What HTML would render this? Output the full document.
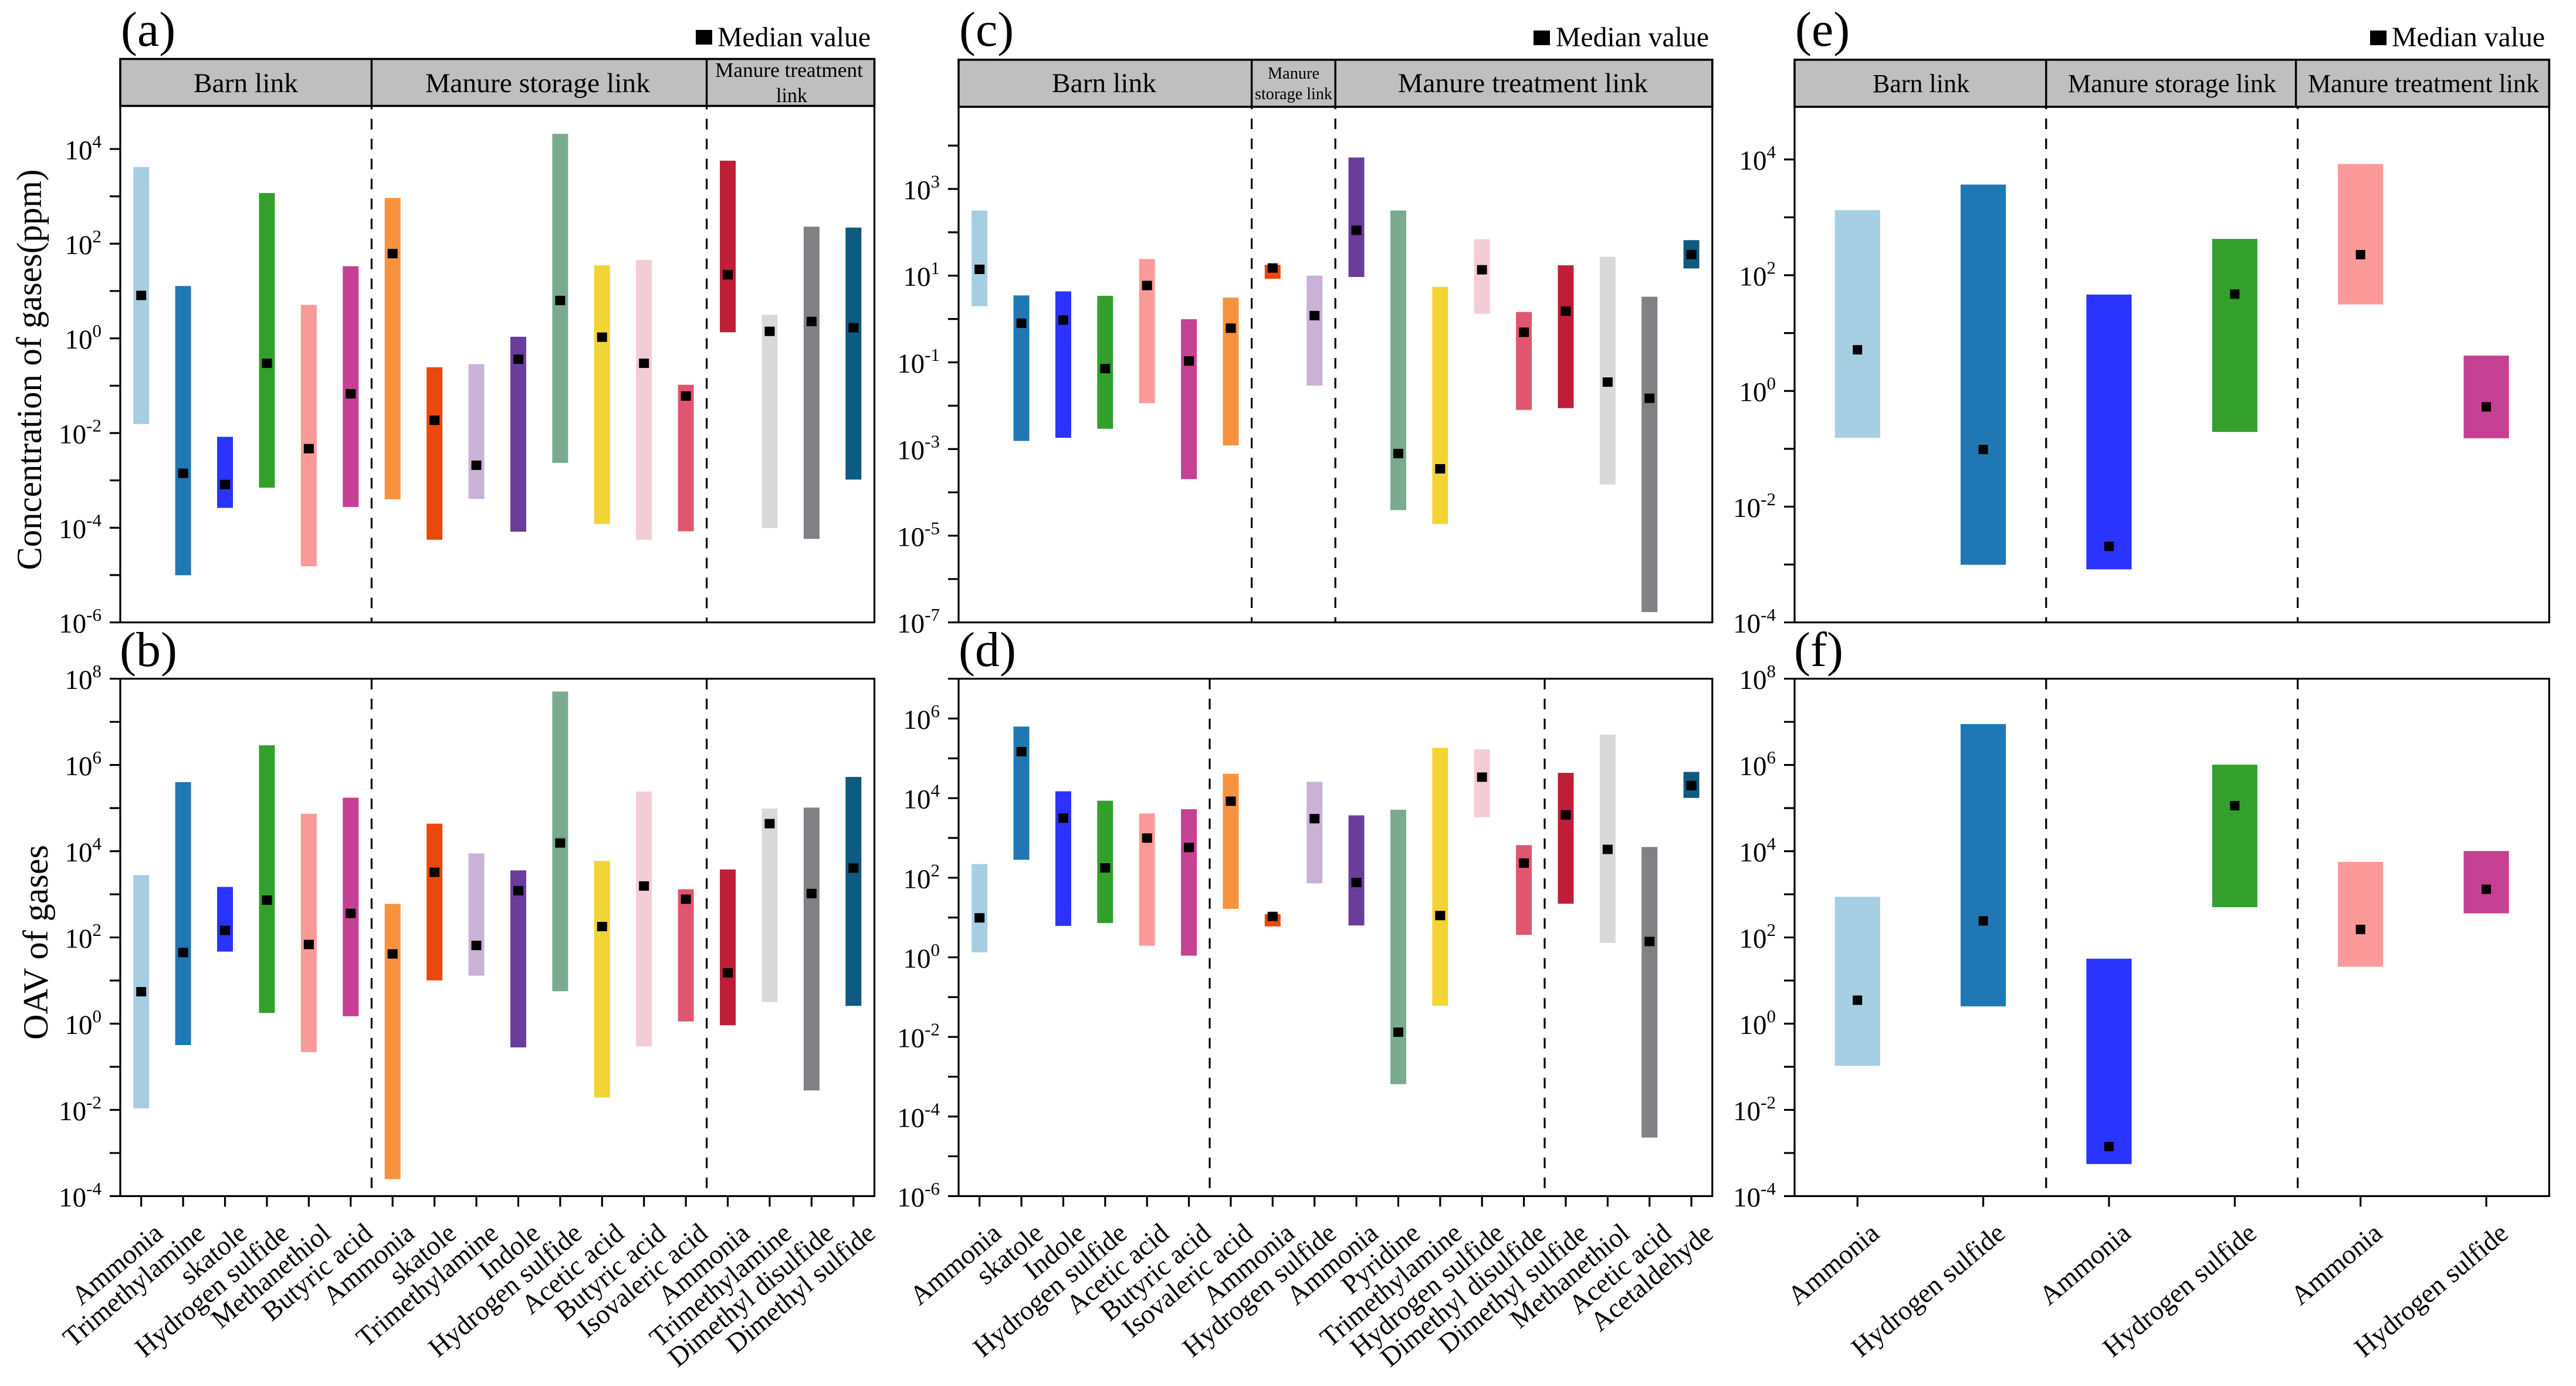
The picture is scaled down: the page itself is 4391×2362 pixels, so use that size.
<!DOCTYPE html>
<html lang="en">
<head>
<meta charset="utf-8">
<title>Gas concentration and OAV ranges by link</title>
<style>
html,body{margin:0;padding:0;background:#fff}
svg{display:block}
text{font-family:"Liberation Serif","Times New Roman",serif;fill:#000}
</style>
</head>
<body>
<svg id="chart" xmlns="http://www.w3.org/2000/svg" width="4391" height="2362" viewBox="0 0 4391 2362"></svg>
<script>
// ---------- category labels ----------
const catsTopLeft = ["Ammonia","Trimethylamine","skatole","Hydrogen sulfide","Methanethiol","Butyric acid","Ammonia","skatole","Trimethylamine","Indole","Hydrogen sulfide","Acetic acid","Butyric acid","Isovaleric acid","Ammonia","Trimethylamine","Dimethyl disulfide","Dimethyl sulfide"];
const catsMiddle = ["Ammonia","skatole","Indole","Hydrogen sulfide","Acetic acid","Butyric acid","Isovaleric acid","Ammonia","Hydrogen sulfide","Ammonia","Pyridine","Trimethylamine","Hydrogen sulfide","Dimethyl disulfide","Dimethyl sulfide","Methanethiol","Acetic acid","Acetaldehyde"];
const catsRight = ["Ammonia","Hydrogen sulfide","Ammonia","Hydrogen sulfide","Ammonia","Hydrogen sulfide"];

// ---------- series values (log10 of the plotted quantity) ----------
const aHigh = [3.62,1.106,-2.08,3.07,0.708,1.524,2.966,-0.611,-0.545,0.034,4.32,1.543,1.657,-0.98,3.753,0.499,2.359,2.34];
const aLow = [-1.81,-5.004,-3.58,-3.154,-4.814,-3.562,-3.40,-4.254,-3.391,-4.084,-2.63,-3.92,-4.254,-4.074,0.129,-4.008,-4.235,-2.983];
const aMedian = [0.907,-2.85,-3.087,-0.526,-2.33,-1.171,1.79,-1.73,-2.68,-0.44,0.80,0.025,-0.526,-1.218,1.343,0.148,0.357,0.224];

const bHigh = [3.445,5.602,3.171,6.456,4.869,5.241,2.777,4.639,3.949,3.555,7.704,3.774,5.383,3.117,3.576,4.989,5.011,5.723];
const bLow = [-1.964,-0.497,1.671,0.248,-0.661,0.171,-3.606,1.003,1.113,-0.551,0.752,-1.712,-0.529,0.051,-0.037,0.5,-1.549,0.412];
const bMedian = [0.741,1.649,2.164,2.865,1.836,2.558,1.617,3.511,1.814,3.084,4.19,2.252,3.193,2.887,1.179,4.639,3.018,3.609];

const cHigh = [2.503,0.544,0.637,0.534,1.383,-0.005,0.492,1.249,1.0,3.725,2.503,0.741,1.839,0.161,1.238,1.435,0.513,1.819];
const cLow = [0.295,-2.813,-2.741,-2.534,-1.943,-3.694,-2.917,0.927,-1.539,0.969,-4.409,-4.731,0.119,-2.098,-2.057,-3.819,-6.762,1.166];
const cMedian = [1.145,-0.098,-0.026,-1.145,0.772,-0.969,-0.212,1.176,0.078,2.047,-3.104,-3.456,1.135,-0.306,0.181,-1.456,-1.829,1.487];

const dHigh = [2.344,5.798,4.172,3.935,3.614,3.721,4.611,1.086,4.41,3.567,3.709,5.264,5.228,2.819,4.635,5.596,2.772,4.659];
const dLow = [0.125,2.451,0.789,0.861,0.291,0.042,1.217,0.777,1.858,0.801,-3.187,-1.217,3.519,0.564,1.347,0.362,-4.528,4.006];
const dMedian = [0.991,5.169,3.496,2.249,2.997,2.76,3.923,1.027,3.484,1.881,-1.881,1.05,4.528,2.368,3.579,2.712,0.398,4.315];

const eHigh = [3.123,3.566,1.665,2.627,3.922,0.61];
const eLow = [-0.81,-3.005,-3.083,-0.709,1.494,-0.818];
const eMedian = [0.711,-1.012,-2.687,1.673,2.355,-0.275];

const fHigh = [2.942,6.949,1.507,6.007,3.752,4.004];
const fLow = [-0.978,0.401,-3.256,2.701,1.321,2.558];
const fMedian = [0.544,2.383,-2.851,5.055,2.186,3.117];

// ---------- labelled tick exponents ----------
const aTicks = [-6,-4,-2,0,2,4];
const bTicks = [-4,-2,0,2,4,6,8];
const cTicks = [-7,-5,-3,-1,1,3];
const dTicks = [-6,-4,-2,0,2,4,6];
const eTicks = [-4,-2,0,2,4];
const fTicks = [-4,-2,0,2,4,6,8];

// ---------- bar colours, by position in a panel ----------
const palette = ["#a6cee3","#1f78b4","#2a33ff","#33a02c","#fb9a99","#c64094","#f7923f","#ea480d","#c9b2d6","#6a3d9a","#7aab8f","#f2d534","#f4ccd6","#e0566f","#be1e37","#d9d9da","#808085","#0e5a80"];

const svg = document.getElementById('chart');
const NS = 'http://www.w3.org/2000/svg';
function mk(tag, attrs, parent) {
  const n = document.createElementNS(NS, tag);
  for (const k in attrs) n.setAttribute(k, attrs[k]);
  parent.appendChild(n);
  return n;
}
const AXW = 3.2;
const TICK = 18;

function drawPanel(p, cats, high, low, median, ticks) {
  const g = mk('g', {}, svg);
  
  

  // axis functions
  const n = cats.length;
  const step = (p.right - p.left) / n;
  const xOf = i => p.left + step * (i + 0.5);
  const yOf = v => p.bottom - (v - p.vMin) * (p.bottom - p.top) / (p.vMax - p.vMin);

  // panel letter
  const letter = mk('text', {x: p.letterX, y: p.letterY, 'font-size': 84}, g);
  letter.textContent = p.letter;
  
  

  // header strip
  if (p.header) {
    const h = p.header;
    const strip = mk('rect', {x: p.left, y: h.top, width: p.right - p.left, height: p.top - h.top, fill: '#bfbfbf', stroke: '#000', 'stroke-width': 3.6}, g);
    
    
    h.dividers.forEach(d => {
      const dv = mk('line', {x1: d, x2: d, y1: h.top, y2: p.top, stroke: '#000', 'stroke-width': 3.4}, g);
      
      
    });
    h.labels.forEach(l => {
      const t = mk('text', {x: l.x, y: l.y, 'font-size': l.size, textLength: l.len, lengthAdjust: 'spacingAndGlyphs'}, g);
      t.textContent = l.text;
      
      
    });
    const mSq = mk('rect', {x: h.legend.sq, y: h.legend.sqY, width: 28, height: 25, fill: '#000'}, g);
    
    
    const mTx = mk('text', {x: h.legend.tx, y: 79, 'font-size': 48, textLength: 261, lengthAdjust: 'spacingAndGlyphs'}, g);
    mTx.textContent = 'Median value';
    
    
  }

  // dashed group separators
  p.dashes.forEach(d => {
    const ln = mk('line', {x1: d, x2: d, y1: p.top, y2: p.bottom, stroke: '#000', 'stroke-width': 3.2, 'stroke-dasharray': '18 16', 'stroke-dashoffset': p.dashOffset}, g);
    
    
  });

  // range bars
  const barW = step * p.barFrac;
  high.forEach((v, i) => {
    const yT = yOf(v), yB = yOf(low[i]);
    const b = mk('rect', {x: xOf(i) - barW / 2, y: yT, width: barW, height: yB - yT, fill: palette[i]}, g);
    
    
  });

  // median markers
  median.forEach((v, i) => {
    const m = mk('rect', {x: xOf(i) - p.medW / 2, y: yOf(v) - 8, width: p.medW, height: 16, fill: '#000'}, g);
    
    
  });

  // frame
  const frame = mk('path', {d: `M${p.left} ${p.top}V${p.bottom}H${p.right}V${p.top}` + (p.header ? '' : `H${p.left}`), fill: 'none', stroke: '#000', 'stroke-width': AXW}, g);
  
  

  // y ticks
  for (let e = Math.ceil(p.vMin); e <= Math.floor(p.vMax); e++) {
    const y = yOf(e);
    const tk = mk('line', {x1: p.left - TICK, x2: p.left, y1: y, y2: y, stroke: '#000', 'stroke-width': AXW}, g);
    
    
    if (ticks.includes(e)) {
      const t = mk('text', {x: p.left - TICK - 14, y: y + 17.5, 'font-size': 47, 'text-anchor': 'end'}, g);
      
      
      t.appendChild(document.createTextNode('10'));
      const s = mk('tspan', {dy: -20, 'font-size': 31}, t);
      s.textContent = String(e);
      
      
    }
  }

  // x ticks and rotated labels
  if (p.showX) {
    cats.forEach((c, i) => {
      const x = xOf(i);
      const tk = mk('line', {x1: x, x2: x, y1: p.bottom, y2: p.bottom + TICK, stroke: '#000', 'stroke-width': AXW}, g);
      
      
      const ax = x + 40, ay = p.bottom + 68;
      const t = mk('text', {x: ax, y: ay, 'font-size': 46.5, 'text-anchor': 'end', transform: `rotate(-40 ${ax} ${ay})`}, g);
      t.textContent = c;
      
      
    });
  }
}

drawPanel({letter:'(a)', letterX:206, letterY:78, left:205, right:1490.5, top:180.5, bottom:1060.7, vMin:-6, vMax:4.91, barFrac:0.378, medW:17, dashes:[633.4,1204.6], dashOffset:12,
  header:{top:100.5, dividers:[633.4,1204.6], legend:{sq:1186, sqY:51, tx:1223}, labels:[
    {text:'Barn link', x:330, y:157, size:47, len:178},
    {text:'Manure storage link', x:725, y:157, size:47, len:383},
    {text:'Manure treatment', x:1219, y:131, size:35, len:252},
    {text:'link', x:1323, y:174, size:35, len:53}]}
}, catsTopLeft, aHigh, aLow, aMedian, aTicks);

drawPanel({letter:'(b)', letterX:204, letterY:1135, left:205, right:1490.5, top:1156.7, bottom:2038.4, vMin:-4, vMax:8, barFrac:0.378, medW:17, dashes:[633.4,1204.6], dashOffset:0, showX:true
}, catsTopLeft, bHigh, bLow, bMedian, bTicks);

drawPanel({letter:'(c)', letterX:1635, letterY:78, left:1634, right:2918.8, top:182, bottom:1060.7, vMin:-7, vMax:4.895, barFrac:0.378, medW:17, dashes:[2133.6,2276.2], dashOffset:14,
  header:{top:101.8, dividers:[2133.6,2276.2], legend:{sq:2614, sqY:52, tx:2652}, labels:[
    {text:'Barn link', x:1793, y:157, size:47, len:178},
    {text:'Manure', x:2161, y:134, size:28, len:88},
    {text:'storage link', x:2139, y:169, size:28, len:132},
    {text:'Manure treatment link', x:2383, y:157, size:47, len:426}]}
}, catsMiddle, cHigh, cLow, cMedian, cTicks);

drawPanel({letter:'(d)', letterX:1634, letterY:1135, left:1634, right:2918.8, top:1156.7, bottom:2038.4, vMin:-6, vMax:7, barFrac:0.378, medW:17, dashes:[2062,2633], dashOffset:0, showX:true
}, catsMiddle, dHigh, dLow, dMedian, dTicks);

drawPanel({letter:'(e)', letterX:3060, letterY:78, left:3059, right:4345.3, top:182, bottom:1060.7, vMin:-4, vMax:4.91, barFrac:0.36, medW:16, dashes:[3487.8,3916.6], dashOffset:14,
  header:{top:101.8, dividers:[3487.8,3913.6], legend:{sq:4040, sqY:52, tx:4077}, labels:[
    {text:'Barn link', x:3192, y:157, size:44, len:165},
    {text:'Manure storage link', x:3525, y:157, size:44, len:355},
    {text:'Manure treatment link', x:3934, y:157, size:44, len:394}]}
}, catsRight, eHigh, eLow, eMedian, eTicks);

drawPanel({letter:'(f)', letterX:3058, letterY:1135, left:3059, right:4345.3, top:1156.7, bottom:2038.4, vMin:-4, vMax:8, barFrac:0.36, medW:16, dashes:[3487.8,3916.6], dashOffset:0, showX:true
}, catsRight, fHigh, fLow, fMedian, fTicks);

// y-axis titles
const title1 = mk('text', {x: 70, y: 630, 'font-size': 60, 'text-anchor': 'middle', textLength: 683, lengthAdjust: 'spacingAndGlyphs', transform: 'rotate(-90 70 630)'}, svg);
title1.textContent = 'Concentration of gases(ppm)';



const title2 = mk('text', {x: 81, y: 1606, 'font-size': 60, 'text-anchor': 'middle', textLength: 332, lengthAdjust: 'spacingAndGlyphs', transform: 'rotate(-90 81 1606)'}, svg);
title2.textContent = 'OAV of gases';


</script>
</body>
</html>
